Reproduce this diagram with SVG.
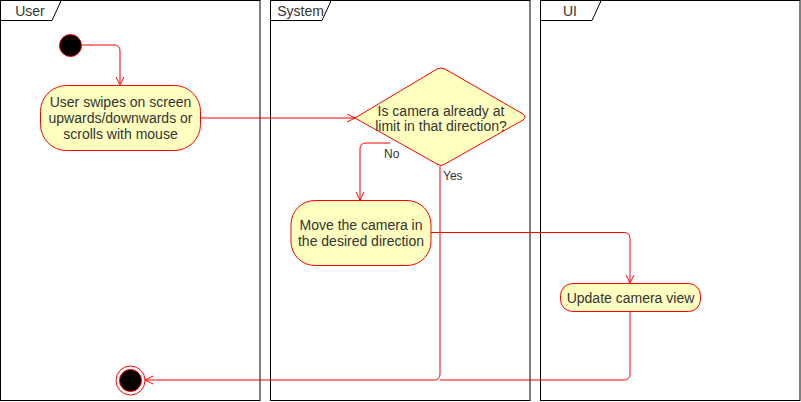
<svg xmlns="http://www.w3.org/2000/svg" width="801" height="402" viewBox="0 0 801 402">
<defs>
<style>
.lane{fill:none;stroke:#000;stroke-width:1}
.tab{fill:#fff;stroke:#000;stroke-width:1}
.lt{font-family:"Liberation Sans",Arial,sans-serif;font-size:14px;fill:#333;text-anchor:middle}
.act{fill:#ffffc0;stroke:#ff0000;stroke-width:1}
.t{font-family:"Liberation Sans",Arial,sans-serif;font-size:14px;fill:#333;text-anchor:middle}
.lbl{font-family:"Liberation Sans",Arial,sans-serif;font-size:12px;fill:#333}
.c{fill:none;stroke:#ff0000;stroke-width:1}
</style>
<marker id="arr" viewBox="0 0 10 10" refX="9" refY="5" markerWidth="10" markerHeight="10" markerUnits="userSpaceOnUse" orient="auto">
<path d="M1,1 L9,5 L1,9" fill="none" stroke="#ff0000" stroke-width="1"/>
</marker>
</defs>
<rect width="801" height="402" fill="#fff"/>
<g id="lane-user">
<rect class="lane" x="0.5" y="0.5" width="259.5" height="400"/>
<path class="tab" d="M0.5,0.5 H60.5 V2 L52,20.5 H0.5 Z"/>
<text class="lt" x="30" y="16">User</text>
</g>
<g id="lane-system">
<rect class="lane" x="270.5" y="0.5" width="259.5" height="400"/>
<path class="tab" d="M270.5,0.5 H330.5 V2 L322,20.5 H270.5 Z"/>
<text class="lt" x="300.5" y="16">System</text>
</g>
<g id="lane-ui">
<rect class="lane" x="540.5" y="0.5" width="259.5" height="400"/>
<path class="tab" d="M540.5,0.5 H600.5 V2 L592,20.5 H540.5 Z"/>
<text class="lt" x="570" y="16">UI</text>
</g>
<g id="connectors">
<path class="c" d="M82,45 H114 Q120,45 120,51 V85" marker-end="url(#arr)"/>
<path class="c" d="M200,118 H355" marker-end="url(#arr)"/>
<path class="c" d="M390,143 H366 Q360,143 360,149 V200" marker-end="url(#arr)"/>
<text class="lbl" x="384" y="158">No</text>
<path class="c" d="M440,166 V374 Q440,380 434,380 H145" marker-end="url(#arr)"/>
<text class="lbl" x="443" y="180">Yes</text>
<path class="c" d="M431,232.5 H624 Q630,232.5 630,238.5 V283" marker-end="url(#arr)"/>
<path class="c" d="M630,311 V374 Q630,380 624,380 H440"/>
</g>
<g id="start">
<circle cx="70.5" cy="45.5" r="11" fill="#000" stroke="#ff0000" stroke-width="1"/>
</g>
<g id="act-swipe">
<rect class="act" x="40.5" y="85.5" width="160" height="65" rx="26" ry="26"/>
<text class="t" x="120.5" y="107">User swipes on screen</text>
<text class="t" x="120.5" y="123">upwards/downwards or</text>
<text class="t" x="120.5" y="139">scrolls with mouse</text>
</g>
<g id="decision">
<path class="act" d="M355,118 L437,69 Q441,67 445,69 L523,114 Q527,117 523,120 L445,164 Q441,167 437,164 Z"/>
<text class="t" x="441" y="116">Is camera already at</text>
<text class="t" x="441" y="131">limit in that direction?</text>
</g>
<g id="act-move">
<rect class="act" x="291" y="200.5" width="140" height="65" rx="24" ry="24"/>
<text class="t" x="361" y="230">Move the camera in</text>
<text class="t" x="361" y="246">the desired direction</text>
</g>
<g id="act-update">
<rect class="act" x="560.5" y="283.5" width="140" height="28" rx="12" ry="12"/>
<text class="t" x="630.5" y="302.5">Update camera view</text>
</g>
<g id="end">
<circle cx="130.5" cy="380.5" r="14.5" fill="#fff" stroke="#ff0000" stroke-width="1"/>
<circle cx="130.5" cy="380.5" r="11" fill="#000" stroke="#ff0000" stroke-width="1"/>
</g>
</svg>
